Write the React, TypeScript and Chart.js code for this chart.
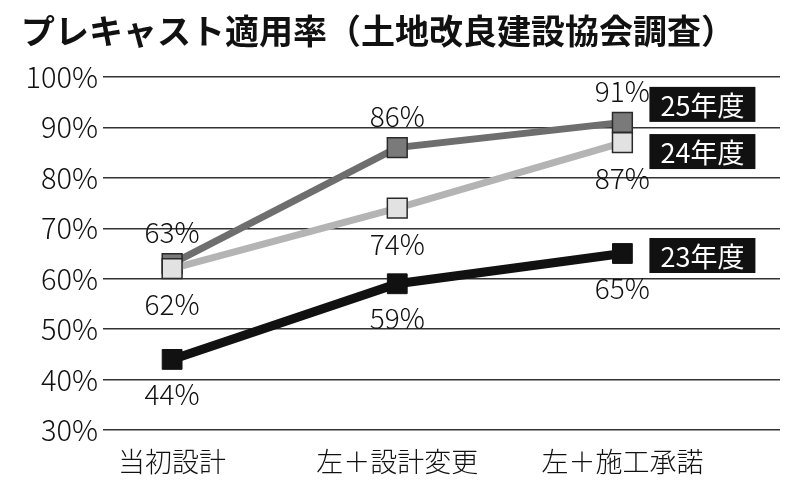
import React, { useEffect, useRef } from 'react';
import { Chart, registerables } from 'chart.js';

Chart.register(...registerables);

const titleText = 'プレキャスト適用率（土地改良建設協会調査）';
const categories = ['当初設計', '左＋設計変更', '左＋施工承諾'];
const seriesNames = ['25年度', '24年度', '23年度'];
const values25 = [63, 86, 91];
const values24 = [62, 74, 87];
const values23 = [44, 59, 65];
const yMin = 30;
const yMax = 100;
const yStep = 10;

const FONT = '"Noto Sans CJK JP", "Noto Sans", sans-serif';

const toPoints = (vals: number[]) => vals.map((v, i) => ({ x: i, y: v }));

const overlayPlugin = {
  id: 'overlay',
  afterDatasetsDraw(chart: any) {
    const ctx = chart.ctx;
    ctx.save();
    chart.data.datasets.forEach((ds: any, di: number) => {
      const meta = chart.getDatasetMeta(di);
      ctx.font = `300 28px ${FONT}`;
      ctx.fillStyle = '#111';
      ctx.textAlign = 'center';
      ctx.textBaseline = 'middle';
      meta.data.forEach((el: any, i: number) => {
        const v = ds.data[i].y;
        ctx.fillText(`${v}%`, el.x, el.y + ds.labelOffset);
      });
      const last = meta.data[meta.data.length - 1];
      const bx = last.x + 27;
      const by = last.y + ds.boxOffset - 17.5;
      ctx.fillStyle = '#111';
      ctx.fillRect(bx, by, 106, 35);
      ctx.fillStyle = '#fff';
      ctx.font = `400 27px ${FONT}`;
      ctx.fillText(ds.label, bx + 53, by + 18.5);
    });
    ctx.restore();
  },
  afterDraw(chart: any) {
    const ctx = chart.ctx;
    ctx.save();
    ctx.font = `bold 34px ${FONT}`;
    ctx.fillStyle = '#111';
    ctx.textAlign = 'left';
    ctx.textBaseline = 'middle';
    ctx.fillText(titleText, 21, 31);
    ctx.restore();
  },
};

export default function App() {
  const ref = useRef<HTMLCanvasElement | null>(null);

  useEffect(() => {
    if (!ref.current) return;
    const yFont = { family: FONT, size: 29, weight: '300' as any };
    const xFont = { family: FONT, size: 27, weight: '300' as any };
    const chart = new Chart(ref.current, {
      type: 'line',
      data: {
        datasets: [
          {
            label: seriesNames[0],
            data: toPoints(values25),
            borderColor: '#6e6e6e',
            borderWidth: 7,
            pointStyle: 'rect',
            pointRadius: 14,
            pointBackgroundColor: '#7a7a7a',
            pointBorderColor: '#2a2a2a',
            pointBorderWidth: 1.5,
            order: 1,
            labelOffset: -31,
            boxOffset: -18,
          } as any,
          {
            label: seriesNames[1],
            data: toPoints(values24),
            borderColor: '#b4b4b4',
            borderWidth: 7,
            pointStyle: 'rect',
            pointRadius: 14,
            pointBackgroundColor: '#e2e2e2',
            pointBorderColor: '#2a2a2a',
            pointBorderWidth: 1.5,
            order: 0,
            labelOffset: 36,
            boxOffset: 9,
          } as any,
          {
            label: seriesNames[2],
            data: toPoints(values23),
            borderColor: '#111',
            borderWidth: 9,
            pointStyle: 'rect',
            pointRadius: 14,
            pointBackgroundColor: '#111',
            pointBorderColor: '#111',
            pointBorderWidth: 1,
            order: 2,
            labelOffset: 35,
            boxOffset: 2,
          } as any,
        ],
      },
      options: {
        responsive: false,
        animation: false,
        layout: { padding: { top: 77, right: 20, left: 0, bottom: 0 } },
        plugins: {
          legend: { display: false },
          title: { display: false },
          tooltip: { enabled: false },
        },
        scales: {
          x: {
            type: 'linear',
            min: -0.307,
            max: 2.7,
            afterBuildTicks: (s: any) => {
              s.ticks = categories.map((_, i) => ({ value: i }));
            },
            afterFit: (s: any) => {
              s.height = 57;
            },
            ticks: {
              callback: (v: any) => categories[v] ?? '',
              font: xFont,
              color: '#111',
              padding: 8,
              autoSkip: false,
              maxRotation: 0,
            },
            grid: { display: false },
            border: { display: false },
          },
          y: {
            min: yMin,
            max: yMax,
            afterFit: (s: any) => {
              s.width = 103;
            },
            ticks: {
              stepSize: yStep,
              callback: (v: any) => `${v}%`,
              font: yFont,
              color: '#111',
              padding: 5,
            },
            grid: { color: '#333', lineWidth: 1.5, drawTicks: false },
            border: { display: false },
          },
        },
      },
      plugins: [overlayPlugin],
    });
    return () => chart.destroy();
  }, []);

  return (
    <div style={{ position: 'absolute', left: 0, top: 0, width: 800, height: 487, background: '#fff' }}>
      <canvas ref={ref} width={800} height={487} />
    </div>
  );
}
